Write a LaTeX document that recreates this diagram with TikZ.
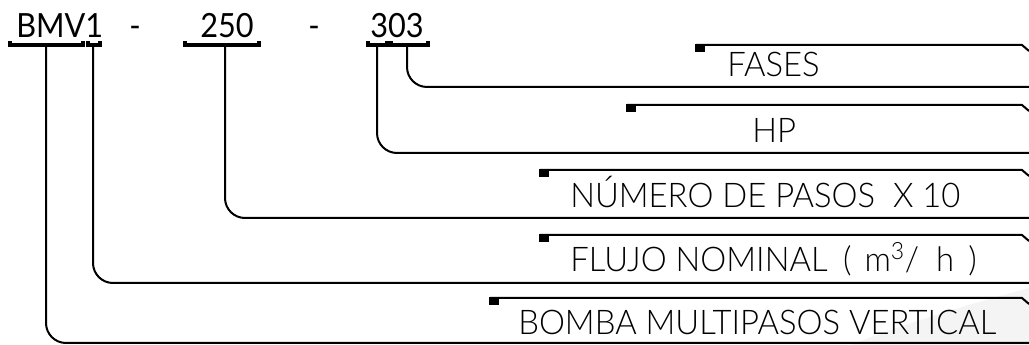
\documentclass[tikz,border=0pt]{standalone}
\usepackage{fontspec}
\setmainfont{Lato}[UprightFont={* Light}, FakeStretch=0.965]
\newfontfamily\codefont{Lato}[FakeStretch=0.92]
\begin{document}
\begin{tikzpicture}[x=0.75pt,y=-0.75pt,
  conn/.style={line width=1.5pt, rounded corners=15pt},
  topline/.style={line width=1.5pt},
  brk/.style={line width=2.4pt},
  sq/.style={fill=black},
  toptext/.style={inner sep=0pt, font=\codefont\fontsize{25}{30}\selectfont},
  lbl/.style={inner sep=0pt, anchor=base west, font=\fontsize{25.5}{30}\selectfont}]
\useasboundingbox (0,0) rectangle (1029,345);
% faint background swoosh
\fill[gray!9] (850,345) .. controls (920,318) and (985,300) .. (1029,288) -- (1029,345) -- cycle;
% top code
\node[toptext, anchor=base west] (bmv) at (16,38) {BMV1};
\node[toptext, anchor=base] (d1) at (135,38) {-};
\node[toptext, anchor=base west] (n250) at (200,38) {250};
\node[toptext, anchor=base] (d2) at (314,38) {-};
\node[toptext, anchor=base west] (n303) at (370,38) {303};
% brackets
\coordinate (bA) at (46,46);
\coordinate (bB) at (93,46);
\coordinate (bC) at (225,46);
\coordinate (bD) at (377,46);
\coordinate (bE) at (407,46);
\foreach \xa/\xb in {10/83, 88/100, 185/259, 368/387, 391/428} {
  \draw[brk] (\xa,45) -- (\xb,45);
  \fill (\xa-1.6,41) rectangle (\xa+1.6,46.6);
  \fill (\xb-1.6,41) rectangle (\xb+1.6,46.6);
}
% end points on the right
\coordinate (eA) at (1029,343);
\coordinate (eB) at (1029,283);
\coordinate (eC) at (1029,218);
\coordinate (eD) at (1029,153);
\coordinate (eE) at (1029,87);
\draw[conn] (bA) |- (eA);
\draw[conn] (bB) |- (eB);
\draw[conn] (bC) |- (eC);
\draw[conn] (bD) |- (eD);
\draw[conn] (bE) |- (eE);
% label top lines
\foreach \xs/\yt in {696/45, 627/105, 540/170, 540/235, 490/298} {
  \draw[topline] (\xs,\yt) -- (1022,\yt) -- (1029,\yt+6);
  \fill[sq] (\xs-1,\yt-1) rectangle (\xs+9,\yt+7);
}
% labels
\node[lbl] (fases) at (727,77) {FASES};
\node[lbl] (hp) at (752,143) {HP};
\node[lbl] (num) at (570,208) {NÚMERO DE PASOS\ \ X 10};
\node[lbl] (flujo) at (570,272) {FLUJO NOMINAL\hspace{5pt} (\hspace{3pt} m\textsuperscript{3}/\hspace{6pt} h\hspace{4pt} )};
\node[lbl] (bomba) at (518,335) {BOMBA MULTIPASOS VERTICAL};
\end{tikzpicture}
\end{document}
